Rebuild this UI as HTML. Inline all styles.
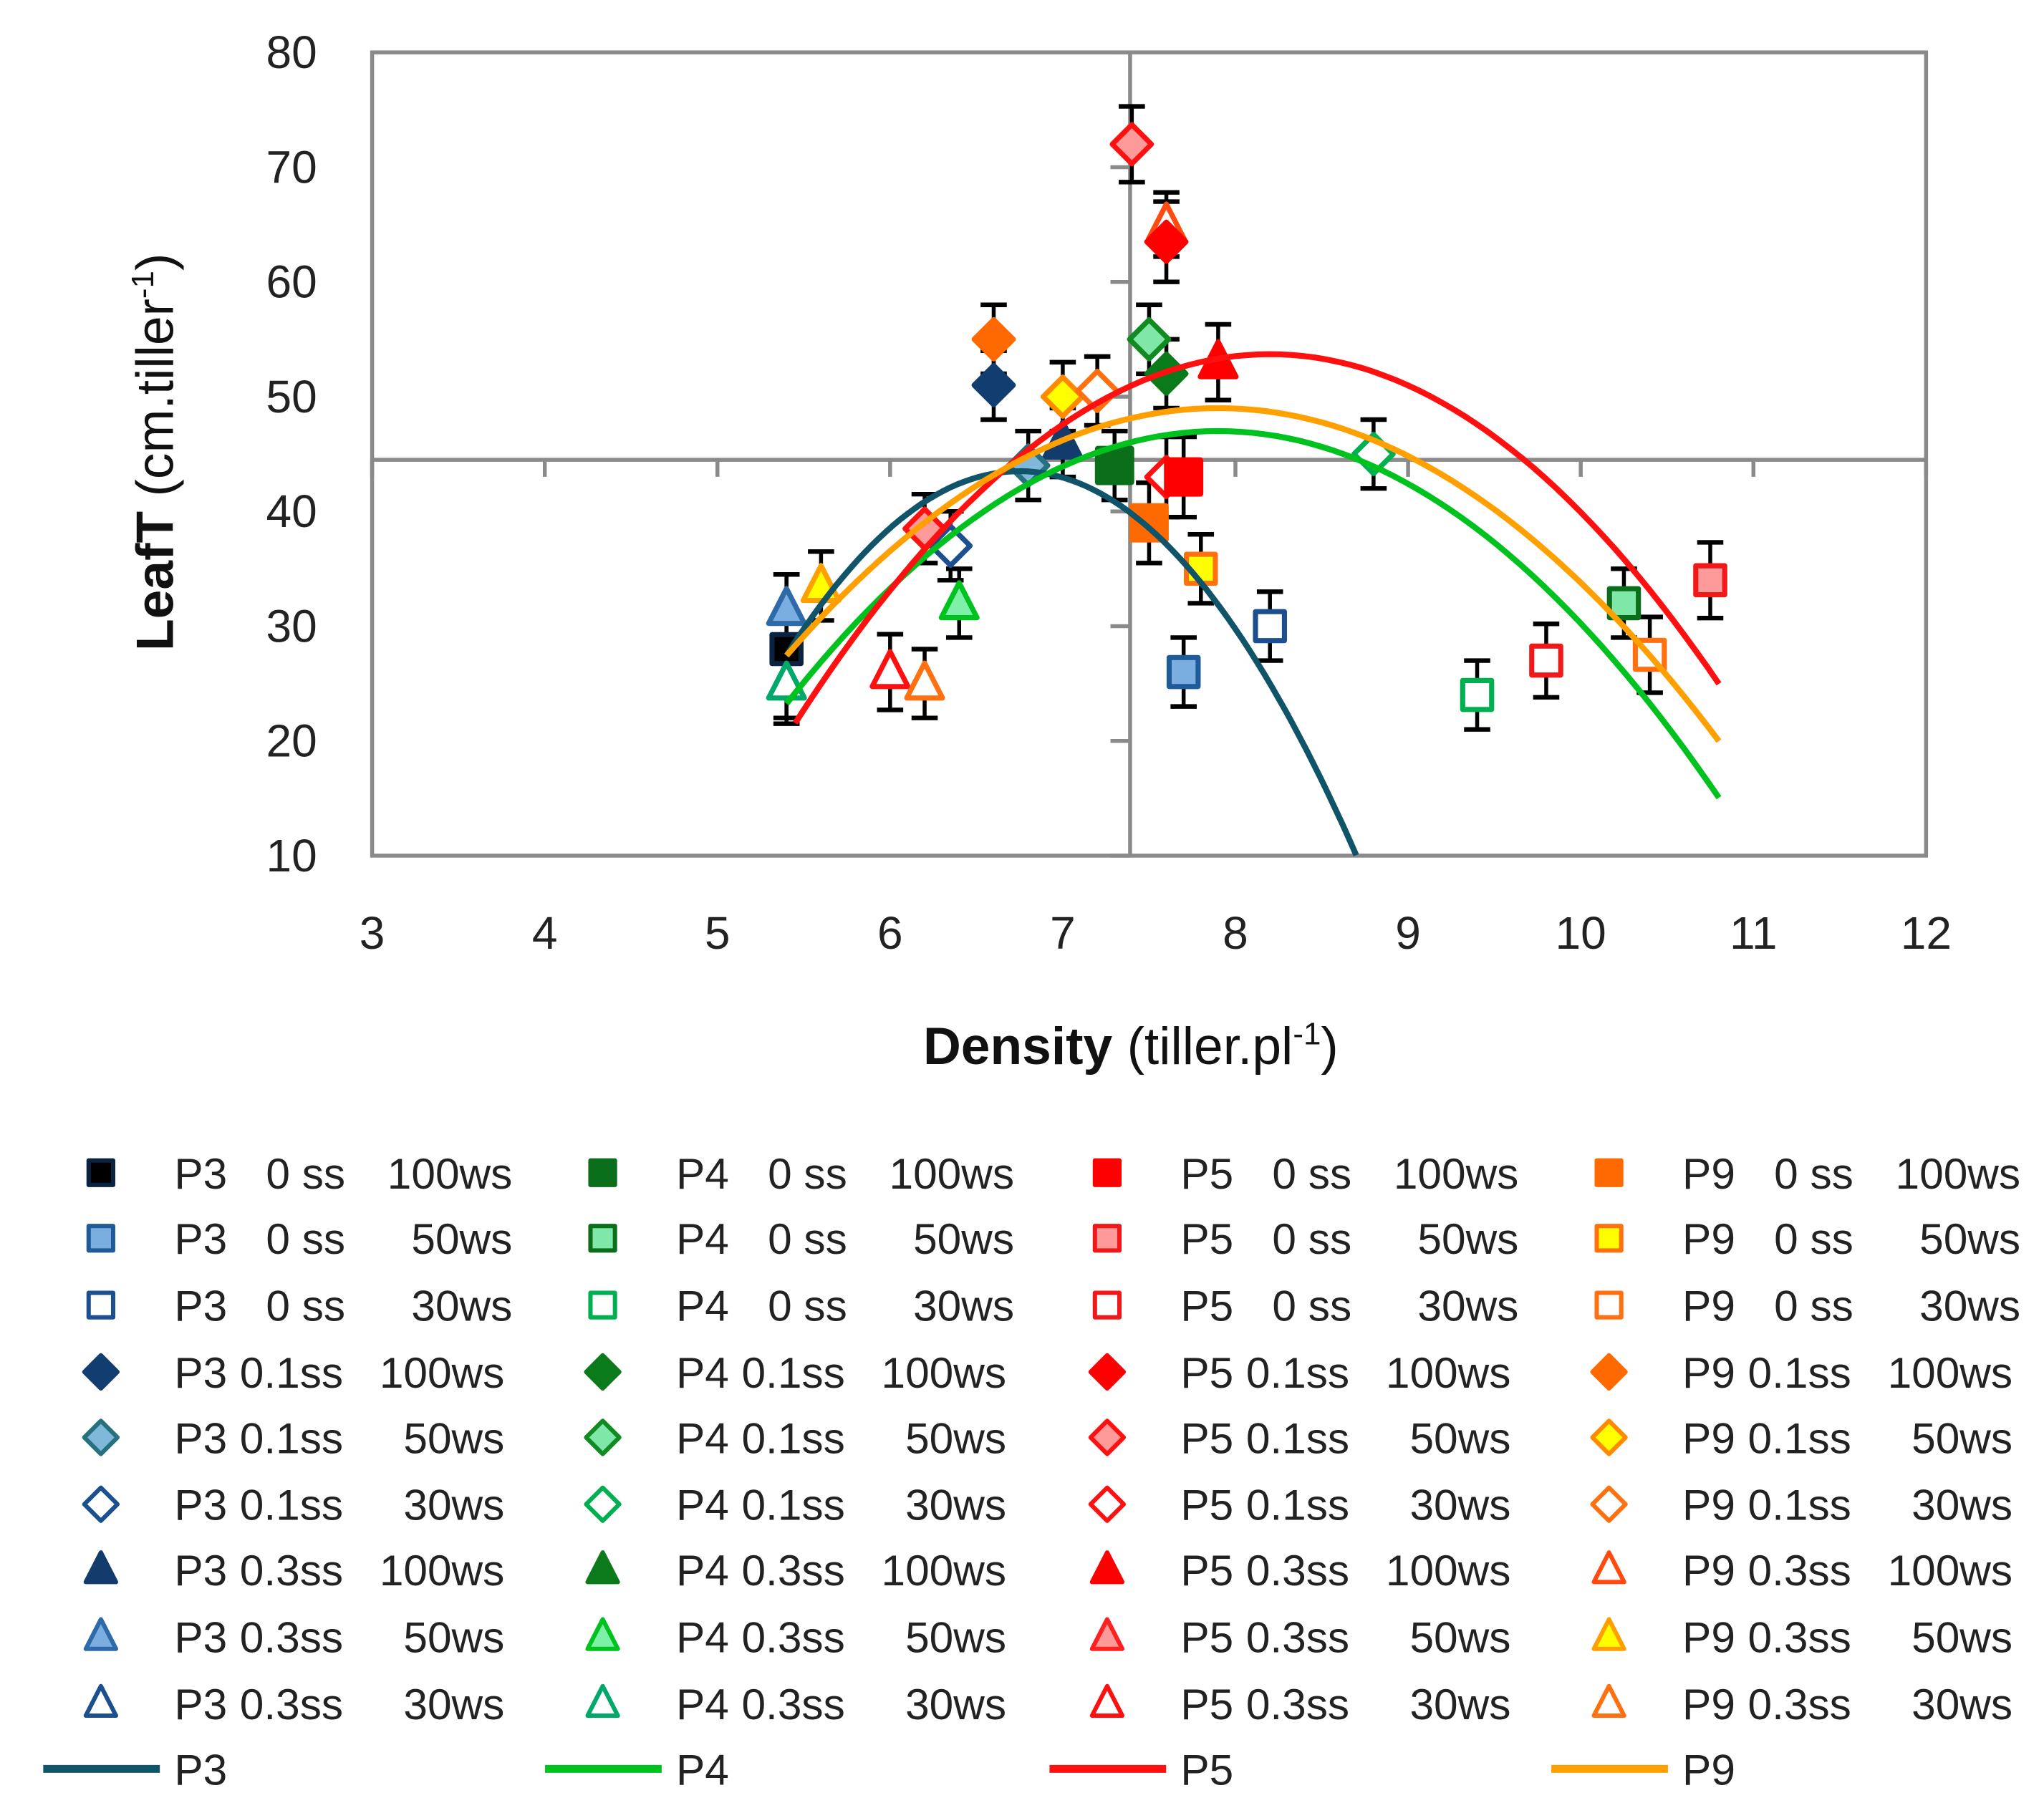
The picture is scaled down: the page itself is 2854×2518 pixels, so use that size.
<!DOCTYPE html>
<html><head><meta charset="utf-8"><style>
html,body{margin:0;padding:0;background:#fff;}
svg{display:block;font-family:"Liberation Sans",sans-serif;}
</style></head><body>
<svg id="chart" width="2854" height="2518" viewBox="0 0 1560 1376" preserveAspectRatio="none" xmlns="http://www.w3.org/2000/svg">
<rect x="0" y="0" width="1560" height="1376" fill="#fff"/>
<g id="plot"></g>
<g id="legend"></g>
</svg>
<script>
// ---- data ----
const xTicks = [3,4,5,6,7,8,9,10,11,12];
const yTicks = [10,20,30,40,50,60,70,80];
const ptX   = [7.4, 7.6, 7.6, 6.6, 6.6, 7.5, 7.6, 7.9, 7.0, 7.2, 7.0, 6.8, 7.3, 7.6, 7.7, 7.5, 7.8, 7.7, 8.2, 8.8, 9.4, 9.8, 10.25, 10.4, 10.75, 5.4, 5.4, 5.4, 5.6, 6.0, 6.2, 6.4, 6.35, 6.2];
const ptY   = [72, 65, 63.5, 55, 51, 55, 52, 53, 50, 50.5, 46, 44, 44, 43, 43, 39, 35, 26, 30, 45, 24, 27, 32, 27.5, 34, 28, 31.5, 25, 33.5, 26, 25, 32, 37, 38.5];
const ptErr = [3.3, 2.8, 3.5, 3, 3, 3, 3, 3.3, 3, 3, 3, 3, 3, 3.5, 3.5, 3.5, 3, 3, 3, 3, 3, 3.2, 3, 3.3, 3.3, 6.5, 3, 3, 3, 3.3, 3, 3, 3, 3];
const ptSeries = ["P5 0.1ss 50ws","P9 0.3ss 100ws","P5 0.1ss 100ws","P9 0.1ss 100ws","P3 0.1ss 100ws","P4 0.1ss 50ws","P4 0.1ss 100ws","P5 0.3ss 100ws","P9 0.1ss 50ws","P9 0.1ss 30ws","P3 0.3ss 100ws","P3 0.1ss 50ws","P4 0 ss 100ws","P5 0.1ss 30ws","P5 0 ss 100ws","P9 0 ss 100ws","P9 0 ss 50ws","P3 0 ss 50ws","P3 0 ss 30ws","P4 0.1ss 30ws","P4 0 ss 30ws","P5 0 ss 30ws","P4 0 ss 50ws","P9 0 ss 30ws","P5 0 ss 50ws","P3 0 ss 100ws","P3 0.3ss 50ws","P4 0.3ss 30ws","P9 0.3ss 50ws","P5 0.3ss 30ws","P9 0.3ss 30ws","P4 0.3ss 50ws","P3 0.1ss 30ws","P5 0.1ss 50ws"];
// trendline quadratic params: y = k + a (x - h)^2
const trendNames = ["P3","P4","P5","P9"];
const trendA = [-8.8, -3.8, -4.25, -3.45];
const trendH = [6.75, 7.9, 8.2, 7.9];
const trendK = [43.5, 47, 53.7, 49];
const trendX0 = [5.4, 5.4, 5.45, 5.4];
const trendX1 = [8.7, 10.8, 10.8, 10.8];

// ---- styles ----
const lineCol = {P3:"#0f5468",P4:"#00c21e",P5:"#ff1010",P9:"#ffa000"};
const mk = {
 "P3 0 ss 100ws":["sq","#0b2340","#000"],"P3 0 ss 50ws":["sq","#1f5b99","#7aaee0"],"P3 0 ss 30ws":["sq","#1b4f8f","#fff"],
 "P3 0.1ss 100ws":["di","#123d70","#123d70"],"P3 0.1ss 50ws":["di","#27707f","#7fb8d8"],"P3 0.1ss 30ws":["di","#1b4f8f","#fff"],
 "P3 0.3ss 100ws":["tr","#133c6c","#133c6c"],"P3 0.3ss 50ws":["tr","#2e6aa8","#7aaee0"],"P3 0.3ss 30ws":["tr","#1b4f8f","#fff"],
 "P4 0 ss 100ws":["sq","#0a6e1a","#0a6e1a"],"P4 0 ss 50ws":["sq","#0a6e1a","#7fe8a8"],"P4 0 ss 30ws":["sq","#00b050","#fff"],
 "P4 0.1ss 100ws":["di","#0a7a1a","#0a7a1a"],"P4 0.1ss 50ws":["di","#118a22","#7fe8a8"],"P4 0.1ss 30ws":["di","#00b050","#fff"],
 "P4 0.3ss 100ws":["tr","#0a7a1a","#0a7a1a"],"P4 0.3ss 50ws":["tr","#00c21e","#7ff0a8"],"P4 0.3ss 30ws":["tr","#00a86a","#fff"],
 "P5 0 ss 100ws":["sq","#ff0000","#ff0000"],"P5 0 ss 50ws":["sq","#f01818","#ff9a9a"],"P5 0 ss 30ws":["sq","#f01818","#fff"],
 "P5 0.1ss 100ws":["di","#ff0000","#ff0000"],"P5 0.1ss 50ws":["di","#ff1010","#ff9a9a"],"P5 0.1ss 30ws":["di","#ff1010","#fff"],
 "P5 0.3ss 100ws":["tr","#ff0000","#ff0000"],"P5 0.3ss 50ws":["tr","#ff2020","#ff9a9a"],"P5 0.3ss 30ws":["tr","#ff1010","#fff"],
 "P9 0 ss 100ws":["sq","#ff6a00","#ff6a00"],"P9 0 ss 50ws":["sq","#ff7010","#ffff00"],"P9 0 ss 30ws":["sq","#ff7010","#fff"],
 "P9 0.1ss 100ws":["di","#ff6a00","#ff6a00"],"P9 0.1ss 50ws":["di","#ff8a00","#ffff00"],"P9 0.1ss 30ws":["di","#ff7010","#fff"],
 "P9 0.3ss 100ws":["tr","#ff4a10","#fff"],"P9 0.3ss 50ws":["tr","#ffa000","#ffff00"],"P9 0.3ss 30ws":["tr","#ff7010","#fff"]
};
const NS="http://www.w3.org/2000/svg";
const L=284,R=1470,T=40,B=653;
const sx=v=>L+(v-3)/(12-3)*(R-L);
const sy=v=>B-(v-10)/(80-10)*(B-T);
function el(tag,attrs,parent){const e=document.createElementNS(NS,tag);for(const k in attrs)e.setAttribute(k,attrs[k]);parent.appendChild(e);return e;}
const plot=document.getElementById('plot');
let f=el('rect',{x:L,y:T,width:R-L,height:B-T,fill:'none',stroke:'#8a8a8a','stroke-width':3},plot);


const ax0=7.39, ay0=44.5;
let vl=el('line',{x1:sx(ax0),x2:sx(ax0),y1:T,y2:B,stroke:'#8a8a8a','stroke-width':3},plot);


let hl=el('line',{x1:L,x2:R,y1:sy(ay0),y2:sy(ay0),stroke:'#8a8a8a','stroke-width':3},plot);


yTicks.forEach(v=>{
 let t=el('line',{x1:sx(ax0)-15,x2:sx(ax0),y1:sy(v),y2:sy(v),stroke:'#8a8a8a','stroke-width':3},plot);
 
 
 let tx=el('text',{x:242,y:sy(v)+12,'text-anchor':'end','font-size':35,fill:'#222'},plot);tx.textContent=v;
 
 
});
xTicks.forEach(v=>{
 let t=el('line',{x1:sx(v),x2:sx(v),y1:sy(ay0),y2:sy(ay0)+13,stroke:'#8a8a8a','stroke-width':3},plot);
 
 
 let tx=el('text',{x:sx(v),y:724,'text-anchor':'middle','font-size':35,fill:'#222'},plot);tx.textContent=v;
 
 
});
let yt=el('text',{transform:'translate(132,345) rotate(-90)','text-anchor':'middle','font-size':40,fill:'#111'},plot);
yt.innerHTML='<tspan font-weight="bold">LeafT</tspan> (cm.tiller<tspan font-size="24" dy="-15">-1</tspan><tspan dy="15">)</tspan>';


let xt=el('text',{x:863,y:812,'text-anchor':'middle','font-size':40,fill:'#111'},plot);
xt.innerHTML='<tspan font-weight="bold">Density</tspan> (tiller.pl<tspan font-size="24" dy="-15">-1</tspan><tspan dy="15">)</tspan>';



function marker(shape,stroke,fill,cx,cy,s,parent){
 let e;
 if(shape==='sq') e=el('rect',{x:cx-s*0.85,y:cy-s*0.85,width:s*1.7,height:s*1.7},parent);
 else if(shape==='di') e=el('polygon',{points:`${cx},${cy-s*1.15} ${cx+s*1.15},${cy} ${cx},${cy+s*1.15} ${cx-s*1.15},${cy}`},parent);
 else e=el('polygon',{points:`${cx},${cy-s*1.2} ${cx+s*1.05},${cy+s*0.85} ${cx-s*1.05},${cy+s*0.85}`},parent);
 e.setAttribute('fill',fill);e.setAttribute('stroke',stroke);e.setAttribute('stroke-width',s*0.3);e.setAttribute('stroke-linejoin','round');
 return e;
}
ptX.forEach((x,i)=>{
 const cx=sx(x),y1=sy(ptY[i]+ptErr[i]),y2=sy(ptY[i]-ptErr[i]);
 const g=el('g',{},plot);
 
 
 el('line',{x1:cx,x2:cx,y1:y1,y2:y2,stroke:'#000','stroke-width':3},g);
 el('line',{x1:cx-10,x2:cx+10,y1:y1,y2:y1,stroke:'#000','stroke-width':3.5},g);
 el('line',{x1:cx-10,x2:cx+10,y1:y2,y2:y2,stroke:'#000','stroke-width':3.5},g);
});
ptX.forEach((x,i)=>{
 const m=mk[ptSeries[i]];
 const s = m[0]==='sq' && (m[2]===m[1]) ? 15 : 13;
 const e=marker(m[0],m[1],m[2],sx(x),sy(ptY[i]),s,plot);
 
 
});
trendNames.forEach((n,i)=>{
 let d='';
 for(let j=0;j<=80;j++){const x=trendX0[i]+(trendX1[i]-trendX0[i])*j/80;const y=trendK[i]+trendA[i]*(x-trendH[i])**2;d+=(j?'L':'M')+sx(x).toFixed(1)+','+sy(y).toFixed(1);}
 const p=el('path',{d:d,fill:'none',stroke:lineCol[n],'stroke-width':4.5},plot);
 
 
});
const leg=document.getElementById('legend');
const cols=["P3","P4","P5","P9"], colX=[77,460,845,1228];
const rows=[["0 ss","100ws"],["0 ss","50ws"],["0 ss","30ws"],["0.1ss","100ws"],["0.1ss","50ws"],["0.1ss","30ws"],["0.3ss","100ws"],["0.3ss","50ws"],["0.3ss","30ws"]];
const rowY=[895,945,996,1047,1097,1148,1198,1249,1300];
cols.forEach((c,ci)=>{
 rows.forEach((r,ri)=>{
  const key=c+' '+r[0]+' '+r[1];const m=mk[key];const y=rowY[ri];const x=colX[ci];
  const g=el('g',{},leg);
  
  
  marker(m[0],m[1],m[2],x,y,11,g);
  const tx=x+56;
  let t=el('text',{x:tx,y:y+12,'font-size':33,fill:'#222'},g);t.textContent=c;
  let t2=el('text',{x:r[0]==='0 ss'?tx+70:tx+50,y:y+12,'font-size':33,fill:'#222'},g);t2.textContent=r[0];
  let t3=el('text',{x:r[0]==='0 ss'?tx+258:tx+252,y:y+12,'font-size':33,fill:'#222','text-anchor':'end'},g);t3.textContent=r[1];
 });
 const g=el('g',{},leg);
 
 
 el('line',{x1:colX[ci]-44,x2:colX[ci]+45,y1:1350,y2:1350,stroke:lineCol[c],'stroke-width':6},g);
 let t=el('text',{x:colX[ci]+56,y:1362,'font-size':33,fill:'#222'},g);t.textContent=c;
});
</script>
</body></html>
